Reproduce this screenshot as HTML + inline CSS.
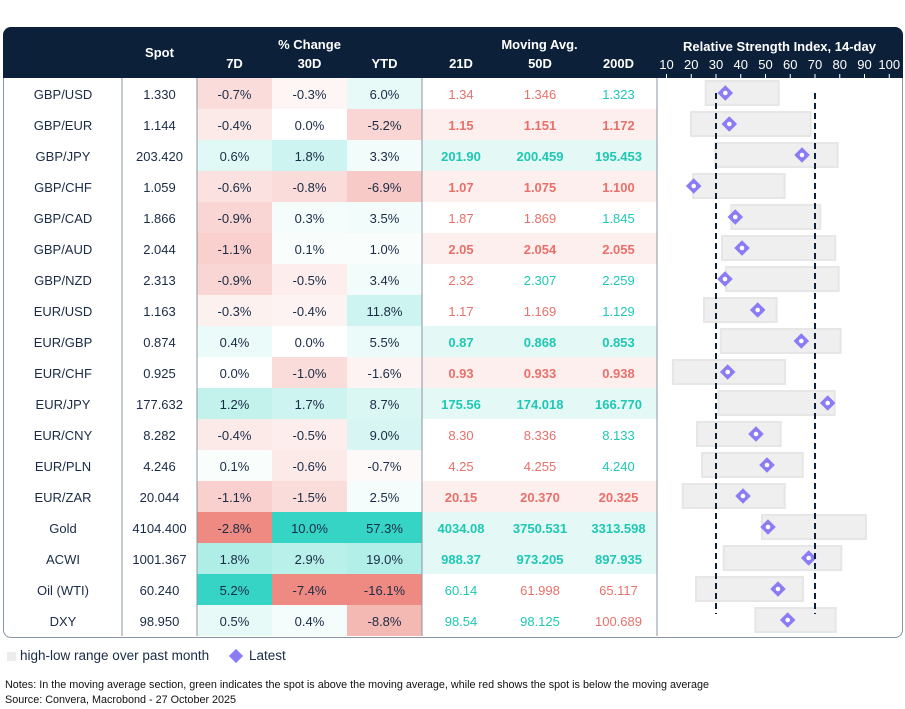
<!DOCTYPE html>
<html><head><meta charset="utf-8"><style>
body{margin:0;width:905px;height:709px;background:#fff;font-family:"Liberation Sans",sans-serif;color:#1a2b45;position:relative;overflow:hidden}
.a{position:absolute}
.c{position:absolute;text-align:center;font-size:13px;line-height:33px;height:31px}
.h{position:absolute;color:#fff;font-weight:bold;font-size:13px;text-align:center}
</style></head><body>
<div class="a" style="left:3px;top:27px;width:898px;height:609px;border:1px solid #8895a5;border-radius:8px;"></div>
<div class="a" style="left:3px;top:27px;width:900px;height:51px;background:#0c2039;border-radius:8px 8px 0 0"></div>
<div id="g"></div>
<svg class="a" style="left:0;top:0" width="905" height="709" id="s"></svg>
<div class="a" style="left:7px;top:652px;width:9px;height:9px;background:#ececec"></div>
<div class="a" style="left:20px;top:648px;font-size:13.5px;color:#1a2b45">high-low range over past month</div>
<div class="a" style="left:231px;top:651px;width:10px;height:10px;background:#8b7cf6;transform:rotate(45deg)"></div>
<div class="a" style="left:249px;top:648px;font-size:13.5px">Latest</div>
<div class="a" style="left:5px;top:679px;font-size:10.8px;color:#111">Notes: In the moving average section, green indicates the spot is above the moving average, while red shows the spot is below the moving average</div>
<div class="a" style="left:5px;top:694px;font-size:10.8px;color:#111">Source: Convera, Macrobond - 27 October 2025</div>
<script>
const R=[
["GBP/USD","1.330",-0.7,.3,-0.3,.08,6.0,.12,["1.34","1.346","1.323"],"rrg",0,704.7,779.7,725.3],
["GBP/EUR","1.144",-0.4,.18,0.0,0,-5.2,.35,["1.15","1.151","1.172"],"rrr",1,690,811.7,729.3],
["GBP/JPY","203.420",0.6,.15,1.8,.25,3.3,.07,["201.90","200.459","195.453"],"ggg",1,714.3,838.7,802],
["GBP/CHF","1.059",-0.6,.25,-0.8,.3,-6.9,.45,["1.07","1.075","1.100"],"rrr",1,692,785.7,693.7],
["GBP/CAD","1.866",-0.9,.35,0.3,.05,3.5,.07,["1.87","1.869","1.845"],"rrg",0,730.3,821.3,735.3],
["GBP/AUD","2.044",-1.1,.4,0.1,.03,1.0,.03,["2.05","2.054","2.055"],"rrr",1,721,836.3,742],
["GBP/NZD","2.313",-0.9,.35,-0.5,.15,3.4,.07,["2.32","2.307","2.259"],"rgg",0,725,839.7,725],
["EUR/USD","1.163",-0.3,.12,-0.4,.1,11.8,.25,["1.17","1.169","1.129"],"rrg",0,703,777.7,757.7],
["EUR/GBP","0.874",0.4,.1,0.0,0,5.5,.1,["0.87","0.868","0.853"],"ggg",1,719.7,841.7,801.3],
["EUR/CHF","0.925",0.0,0,-1.0,.3,-1.6,.1,["0.93","0.933","0.938"],"rrr",1,672,786,727.7],
["EUR/JPY","177.632",1.2,.3,1.7,.25,8.7,.18,["175.56","174.018","166.770"],"ggg",1,717.3,835.7,827.7],
["EUR/CNY","8.282",-0.4,.18,-0.5,.15,9.0,.2,["8.30","8.336","8.133"],"rrg",0,696,781.7,756],
["EUR/PLN","4.246",0.1,.03,-0.6,.18,-0.7,.05,["4.25","4.255","4.240"],"rrg",0,701,803.7,767],
["EUR/ZAR","20.044",-1.1,.4,-1.5,.3,2.5,.05,["20.15","20.370","20.325"],"rrr",1,681.7,785.7,743],
["Gold","4104.400",-2.8,1,10.0,1,57.3,1,["4034.08","3750.531","3313.598"],"ggg",1,761,867,768],
["ACWI","1001.367",1.8,.4,2.9,.35,19.0,.38,["988.37","973.205","897.935"],"ggg",1,722.7,842.3,808.7],
["Oil (WTI)","60.240",5.2,1,-7.4,1,-16.1,1,["60.14","61.998","65.117"],"grr",0,695,804,778],
["DXY","98.950",0.5,.12,0.4,.05,-8.8,.6,["98.54","98.125","100.689"],"ggr",0,754.3,836.7,787.7]];
function mix(c,t){const w=[255,255,255];return"rgb("+c.map((v,i)=>Math.round(w[i]+(v-w[i])*t)).join(",")+")"}
const RED=[239,138,130],TEAL=[54,212,196];
let h="",sv="";
const fmt=v=>v.toFixed(1)+"%";
R.forEach((r,i)=>{const y=78+i*31;
h+=`<div class="c" style="left:4px;top:${y}px;width:118px">${r[0]}</div>`;
h+=`<div class="c" style="left:122px;top:${y}px;width:75px">${r[1]}</div>`;
for(let k=0;k<3;k++){const v=r[2+2*k],t=r[3+2*k];const bg=t==0?"#fff":mix(v<0?RED:TEAL,t);
h+=`<div class="c" style="left:${197+75*k}px;top:${y}px;width:75px;background:${bg}">${fmt(v)}</div>`;}
const bold=r[10];const allg=r[9]=="ggg";
if(bold)h+=`<div class="a" style="left:422px;top:${y}px;width:235px;height:31px;background:${allg?"#e4f8f5":"#fcefee"}"></div>`;
const xs=[[422,78],[500,80],[580,77]];
for(let k=0;k<3;k++){const col=r[9][k]=="g"?"#1ec8b4":"#e9706a";
h+=`<div class="c" style="left:${xs[k][0]}px;top:${y}px;width:${xs[k][1]}px;color:${col};font-weight:${bold?"bold":"normal"}">${r[8][k]}</div>`;}
sv+=`<rect x="${r[11]+1}" y="${y+3}" width="${r[12]-r[11]-2}" height="24" fill="#efefef" stroke="#e6e6e6" stroke-width="2"/>`;
sv+=`<rect x="${r[13]-5.5}" y="${y+9.5}" width="11" height="11" fill="#8b7cf6" transform="rotate(45 ${r[13]} ${y+15})"/><circle cx="${r[13]}" cy="${y+15}" r="2.3" fill="#fff"/>`;
});
sv+=`<line x1="716" y1="93" x2="716" y2="614" stroke="#0c2039" stroke-width="2" stroke-dasharray="6,4"/><line x1="815" y1="93" x2="815" y2="614" stroke="#0c2039" stroke-width="2" stroke-dasharray="6,4"/>`;
sv+=`<line x1="122" y1="78" x2="122" y2="636" stroke="#8895a5"/><line x1="197" y1="78" x2="197" y2="636" stroke="#8895a5"/><line x1="422" y1="78" x2="422" y2="636" stroke="#8895a5"/><line x1="657" y1="78" x2="657" y2="636" stroke="#8895a5"/>`;
for(let v=10;v<=100;v+=10){const x=666.5+(v-10)*2.475;
sv+=`<text x="${x}" y="69" fill="#fff" font-size="13" text-anchor="middle" font-family="Liberation Sans">${v}</text><line x1="${x}" y1="74" x2="${x}" y2="78" stroke="#fff"/>`;}
h+=`<div class="h" style="left:122px;top:45px;width:75px">Spot</div>
<div class="h" style="left:197px;top:37px;width:225px">% Change</div>
<div class="h" style="left:197px;top:56px;width:75px">7D</div><div class="h" style="left:272px;top:56px;width:75px">30D</div><div class="h" style="left:347px;top:56px;width:75px">YTD</div>
<div class="h" style="left:422px;top:37px;width:235px">Moving Avg.</div>
<div class="h" style="left:422px;top:56px;width:78px">21D</div><div class="h" style="left:500px;top:56px;width:80px">50D</div><div class="h" style="left:580px;top:56px;width:77px">200D</div>
<div class="h" style="left:657px;top:39px;width:245px">Relative Strength Index, 14-day</div>`;
document.getElementById("g").innerHTML=h;document.getElementById("s").innerHTML=sv;
</script>
</body></html>
